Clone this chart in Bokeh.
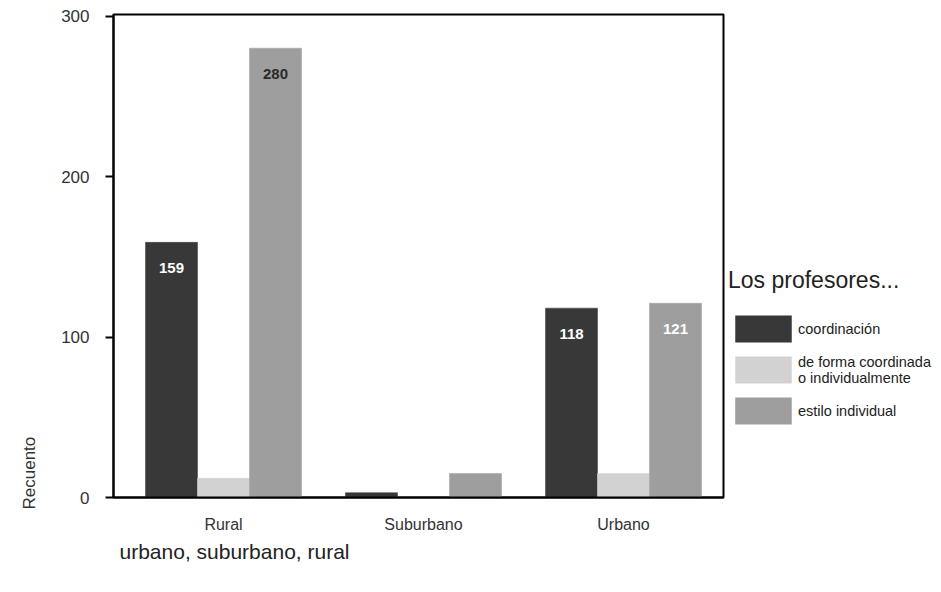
from bokeh.plotting import figure
from bokeh.models import (ColumnDataSource, Range1d, Legend, LegendItem, Title,
                          FixedTicker, LabelSet)
from bokeh.core.properties import value
from bokeh.embed import file_html
from bokeh.resources import INLINE
from bokeh.transform import dodge

categories = ["Rural", "Suburbano", "Urbano"]
series_names = ["coordinación", "de forma coordinada\no individualmente", "estilo individual"]
coordinacion = [159, 3, 118]
de_forma = [12, 0, 15]
estilo = [280, 15, 121]
series_values = [coordinacion, de_forma, estilo]
colors = ["#383838", "#d2d2d2", "#9e9e9e"]
offsets = [-0.26, 0.0, 0.26]
y_ticks = [0, 100, 200, 300]

FONT = "Liberation Sans"

p = figure(frame_width=610, frame_height=483, output_backend="svg", toolbar_location=None,
           x_range=Range1d(-0.55, 2.5), y_range=Range1d(0, 301),
           min_border_left=113, min_border_top=14, min_border_bottom=78,
           min_border_right=210)
p.background_fill_color = "white"
p.border_fill_color = "white"
p.outline_line_color = "black"
p.outline_line_width = 2
p.xgrid.visible = False
p.ygrid.visible = False

xs = list(range(len(categories)))
data = dict(x=xs, cat=categories)
for i, vals in enumerate(series_values):
    data["s%d" % i] = vals
src = ColumnDataSource(data)

renderers = []
for i in range(len(series_values)):
    r = p.vbar(x=dodge("x", offsets[i]), top="s%d" % i, bottom=0, width=0.26,
               source=src, fill_color=colors[i], line_color=colors[i], line_width=0.5)
    renderers.append(r)

# value labels on the tall bars
lx, ly, lt, lc = [], [], [], []
for i, vals in enumerate(series_values):
    for j, v in enumerate(vals):
        if v > 100:
            lx.append(xs[j] + offsets[i])
            ly.append(v)
            lt.append(str(v))
            lc.append("#2a2a2a" if v > 250 else "white")
lsrc = ColumnDataSource(dict(x=lx, y=ly, t=lt, c=lc))
labels = LabelSet(x="x", y="y", text="t", source=lsrc, y_offset=-26,
                  text_align="center", text_baseline="middle",
                  text_color="c", text_font=value(FONT), text_font_size="15px",
                  text_font_style="bold")
p.add_layout(labels)

# axes
ya = p.yaxis[0]
ya.ticker = FixedTicker(ticks=y_ticks)
ya.axis_line_color = "black"
ya.axis_line_width = 2
ya.major_tick_line_color = "black"
ya.major_tick_line_width = 2
ya.major_tick_out = 8
ya.major_tick_in = 0
ya.minor_tick_line_color = None
ya.major_label_standoff = 16
ya.major_label_text_font = FONT
ya.major_label_text_font_size = "17px"
ya.major_label_text_color = "#333333"

xa = p.xaxis[0]
xa.ticker = FixedTicker(ticks=xs)
xa.major_label_overrides = {x: c for x, c in zip(xs, categories)}
xa.axis_line_color = "black"
xa.axis_line_width = 2
xa.major_tick_line_color = None
xa.major_tick_out = 0
xa.major_tick_in = 0
xa.minor_tick_line_color = None
xa.major_label_standoff = 18
xa.major_label_text_font = FONT
xa.major_label_text_font_size = "16px"
xa.major_label_text_color = "#333333"

xt = Title(text="urbano, suburbano, rural", align="left", offset=6, standoff=4,
           text_font=FONT, text_font_size="21px", text_font_style="normal",
           text_color="#222222")
p.add_layout(xt, "below")

yt = Title(text="Recuento", align="left", offset=-12, standoff=36,
           vertical_align="top",
           text_font=FONT, text_font_size="17px", text_font_style="normal",
           text_color="#333333")
p.add_layout(yt, "left")

items = [LegendItem(label=series_names[i], renderers=[renderers[i]]) for i in range(3)]
legend = Legend(items=items, title="Los profesores...", location=(5, 70),
                glyph_width=70, glyph_height=33, spacing=8, padding=0, margin=0,
                label_standoff=-6, label_text_font=FONT, label_text_font_size="14.5px",
                label_text_color="#222222", label_height=33,
                title_text_font=FONT, title_text_font_size="23px",
                title_text_font_style="normal", title_text_color="#222222",
                title_standoff=18, border_line_color=None,
                background_fill_alpha=0)
p.add_layout(legend, "right")

open("out.html", "w").write(file_html(p, INLINE))
